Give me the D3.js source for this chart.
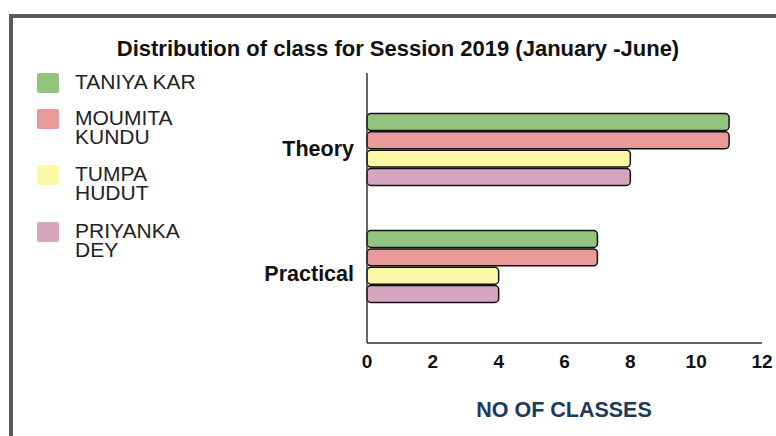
<!doctype html>
<html lang="en">
  <head>
    <title>Distribution of class</title>
    <style>
      * { margin: 0; border: 0; padding: 0; }
      body { background-color: #fff; }
      text { font-family: 'Liberation Sans', Arial, sans-serif; }
    </style>
  </head>
  <body>
    <div id="plot"></div>

<script src="https://d3js.org/d3.v7.min.js"></script>
<script>

  var categories = ["Theory", "Practical"];
  var teachers   = [["TANIYA", "KAR"], ["MOUMITA", "KUNDU"], ["TUMPA", "HUDUT"], ["PRIYANKA", "DEY"]];
  var teacherKeys = ["TANIYA KAR", "MOUMITA KUNDU", "TUMPA HUDUT", "PRIYANKA DEY"];
  var colors     = ["#93c47d", "#ea9999", "#fbf8a8", "#d5a6bd"];
  var values = {
    "TANIYA KAR":    [11, 7],
    "MOUMITA KUNDU": [11, 7],
    "TUMPA HUDUT":   [8, 4],
    "PRIYANKA DEY":  [8, 4]
  };
  var xTicks = [0, 2, 4, 6, 8, 10, 12];

  var width  = 776;
  var height = 436;

  var svg = d3.select("#plot").append("svg").attr("width", width).attr("height", height);

  // outer frame (runs off the right and bottom edge)
  svg.append("rect")
    .attr("x", 11).attr("y", 16).attr("width", 820).attr("height", 500)
    .attr("fill", "none").attr("stroke", "#5a5a5a").attr("stroke-width", 4);

  svg.append("text")
    .attr("x", 398).attr("y", 56)
    .attr("text-anchor", "middle")
    .style("font-size", "22px").style("font-weight", "bold").attr("fill", "#111")
    .text("Distribution of class for Session 2019 (January -June)");

  var xscale = d3.scaleLinear().domain([0, 12]).range([367, 762]);
  var yscale = d3.scaleBand().domain(categories).range([113, 302]).paddingInner(0.385);
  var inner  = d3.scaleBand().domain(teacherKeys).range([0, yscale.bandwidth()]).paddingInner(0.08);

  // axes lines
  svg.append("line").attr("x1", 367).attr("x2", 762).attr("y1", 343).attr("y2", 343)
    .attr("stroke", "#333").attr("stroke-width", 1.5);

  // tick labels
  svg.selectAll(".xt").data(xTicks).enter().append("text")
    .attr("x", d => xscale(d)).attr("y", 368)
    .attr("text-anchor", "middle")
    .style("font-size", "19px").style("font-weight", "bold").attr("fill", "#111")
    .text(d => d);

  svg.selectAll(".cat").data(categories).enter().append("text")
    .attr("x", 354).attr("y", (d, i) => yscale(d) + yscale.bandwidth() / 2 + 7 + i * 8)
    .attr("text-anchor", "end")
    .style("font-size", "21.5px").style("font-weight", "bold").attr("fill", "#111")
    .text(d => d);

  // bars
  teacherKeys.forEach((k, j) => {
    svg.selectAll(".b" + j).data(values[k]).enter().append("rect")
      .attr("x", xscale(0))
      .attr("y", (d, i) => yscale(categories[i]) + inner(k) + 0.5)
      .attr("width", d => xscale(d) - xscale(0))
      .attr("height", inner.bandwidth())
      .attr("rx", 4).attr("ry", 4)
      .attr("fill", colors[j]).attr("stroke", "#111").attr("stroke-width", 1.5);
  });
  // y axis drawn over the bars' left ends
  svg.append("line").attr("x1", 367).attr("x2", 367).attr("y1", 73).attr("y2", 343)
    .attr("stroke", "#333").attr("stroke-width", 1.5);

  svg.append("text")
    .attr("x", 564).attr("y", 417)
    .attr("text-anchor", "middle")
    .style("font-size", "21.5px").style("font-weight", "bold").attr("fill", "#1c3a5a")
    .text("NO OF CLASSES");

  // legend
  var ly = [73, 109, 165, 222];
  teachers.forEach((t, j) => {
    svg.append("rect").attr("x", 37).attr("y", ly[j]).attr("width", 22).attr("height", 20)
      .attr("rx", 2).attr("fill", colors[j]);
    var lines = j === 0 ? [t.join(" ")] : t;
    var txt = svg.append("text").attr("x", 75).attr("y", ly[j] + 16)
      .style("font-size", "21px").attr("fill", "#222");
    lines.forEach((s, i) => {
      txt.append("tspan").attr("x", 75).attr("dy", i === 0 ? 0 : 19).text(s);
    });
  });

</script>
  </body>
</html>
